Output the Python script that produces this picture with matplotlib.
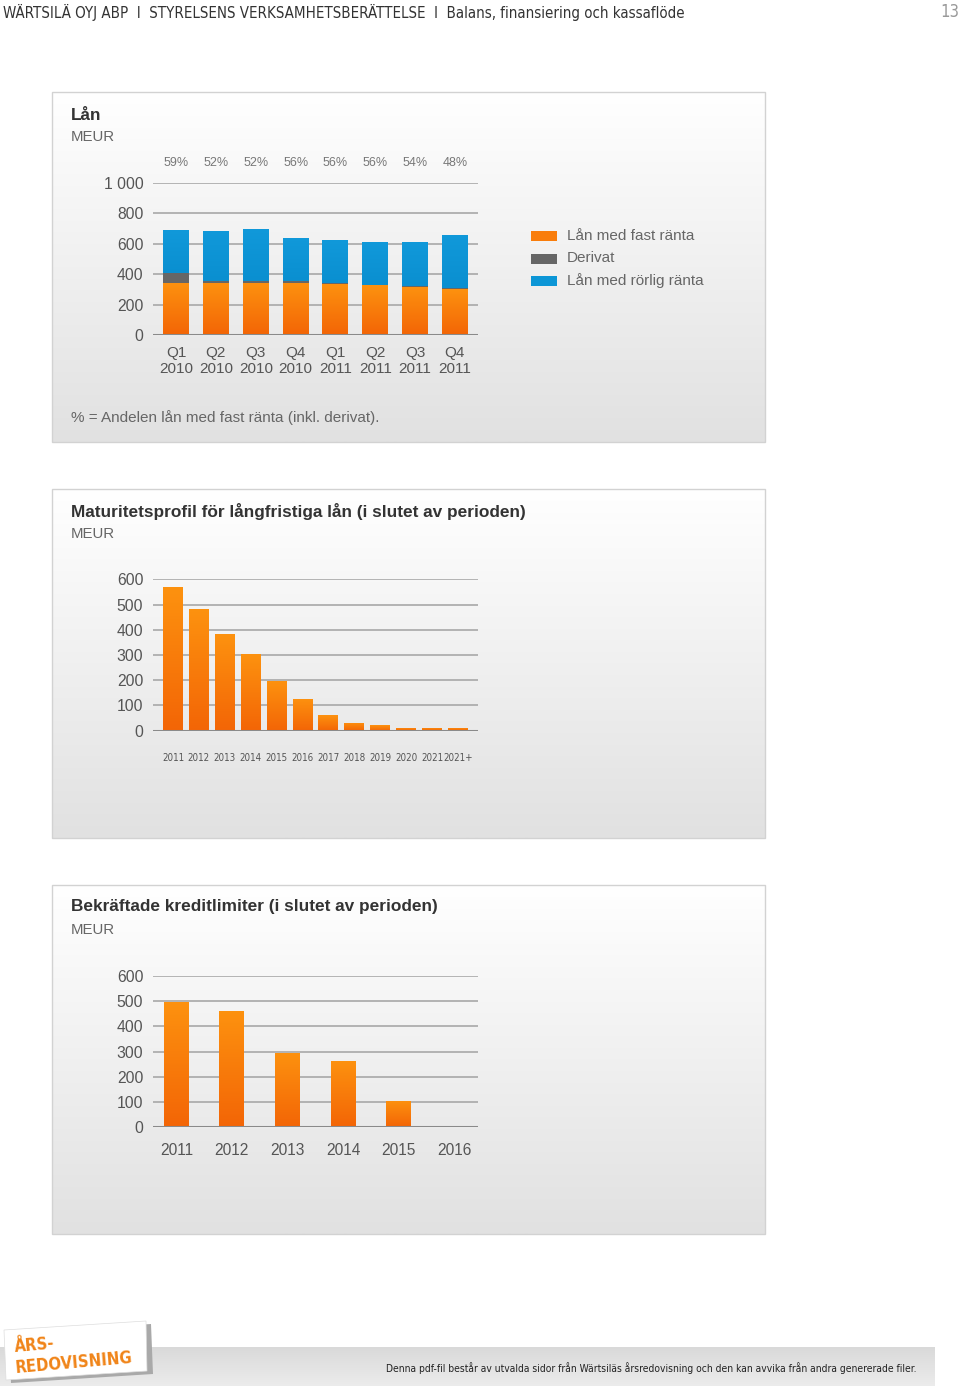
import numpy as np
import matplotlib
matplotlib.use('Agg')
from matplotlib import pyplot as plt
from matplotlib.colors import LinearSegmentedColormap
from matplotlib.patches import Rectangle, Polygon
import matplotlib.transforms as mtransforms

# data
quarters = ['Q1\n2010', 'Q2\n2010', 'Q3\n2010', 'Q4\n2010', 'Q1\n2011', 'Q2\n2011', 'Q3\n2011', 'Q4\n2011']
fast = [345, 345, 345, 345, 337, 327, 319, 301]
derivat = [66, 8, 8, 8, 5, 5, 5, 5]
rorlig = [281, 331, 344, 284, 282, 281, 287, 349]
andel = ['59%', '52%', '52%', '56%', '56%', '56%', '54%', '48%']

mat_years = ['2011', '2012', '2013', '2014', '2015', '2016', '2017', '2018', '2019', '2020', '2021', '2021+']
mat_values = [569, 481, 383, 305, 196, 127, 62, 32, 21, 12, 12, 12]

kred_years = ['2011', '2012', '2013', '2014', '2015', '2016']
kred_values = [497, 462, 293, 262, 103, 0]

W, H = 960, 1389
fig = plt.figure(figsize=(W / 100, H / 100), dpi=100)
fig.patch.set_facecolor('white')

SANS = ['Liberation Sans', 'DejaVu Sans']
NARROW = ['DejaVu Sans']
GRAY = '#666666'

page = fig.add_axes([0, 0, 1, 1], zorder=0)
page.set_xlim(0, W)
page.set_ylim(H, 0)
page.axis('off')


def cmap2(c1, c2):
    return LinearSegmentedColormap.from_list('g', [c1, c2])


grad = np.linspace(0, 1, 256).reshape(-1, 1)


def grad_box(x0, y0, x1, y1, ctop, cbot, border=None):
    page.imshow(grad, cmap=cmap2(ctop, cbot), extent=[x0, x1, y1, y0], aspect='auto', zorder=1)
    if border:
        page.add_patch(Rectangle((x0, y0), x1 - x0, y1 - y0, fill=False, ec=border, lw=1, zorder=2))


# panels
for (y0, y1) in [(92, 442), (489, 838), (885, 1234)]:
    grad_box(52, y0, 765, y1, '#ffffff', '#e1e1e1', border='#d2d2d2')

# footer band
grad_box(0, 1347, 935, 1386, '#d9d9d9', '#ececec')
page.set_xlim(0, W)
page.set_ylim(H, 0)

# logo card
shadow = Polygon([[9, 1333], [151, 1324], [153, 1374], [11, 1383]], closed=True, fc='#a9a9a9', ec='none', zorder=3)
card = Polygon([[4, 1330], [146, 1321], [147, 1371], [6, 1380]], closed=True, fc='white', ec='#dddddd', lw=0.5, zorder=4)
page.add_patch(shadow)
page.add_patch(card)
page.text(14, 1347, 'ÅRS-', color='#f08418', fontsize=12, fontweight='bold', family=NARROW, fontstretch='condensed',
          rotation=5, va='center', ha='left', zorder=5, rotation_mode='anchor')
page.text(15, 1368, 'REDOVISNING', color='#f08418', fontsize=12, fontweight='bold', family=NARROW, fontstretch='condensed',
          rotation=5, va='center', ha='left', zorder=5, rotation_mode='anchor')
page.text(917, 1368, 'Denna pdf-fil består av utvalda sidor från Wärtsiläs årsredovisning och den kan avvika från andra genererade filer.',
          fontsize=7.4, family=NARROW, fontstretch='condensed', color='#222222', ha='right', va='center', zorder=5)

# header
page.text(3, 12, 'WÄRTSILÄ OYJ ABP  I  STYRELSENS VERKSAMHETSBERÄTTELSE  I  Balans, finansiering och kassaflöde',
          fontsize=10.8, family=NARROW, fontstretch='condensed', color='#333333', ha='left', va='center', zorder=5)
page.text(959, 12, '13', fontsize=12, family=NARROW, fontstretch='condensed', color='#999999', ha='right', va='center', zorder=5)

# panel titles
TS = 12.4
page.text(71, 115, 'Lån', fontsize=TS, fontweight='bold', family=SANS, color='#333333', va='center', zorder=5)
page.text(71, 137, 'MEUR', fontsize=10.8, family=SANS, color=GRAY, va='center', zorder=5)
page.text(71, 511, 'Maturitetsprofil för långfristiga lån (i slutet av perioden)', fontsize=TS, fontweight='bold',
          family=SANS, color='#333333', va='center', zorder=5)
page.text(71, 534, 'MEUR', fontsize=10.8, family=SANS, color=GRAY, va='center', zorder=5)
page.text(71, 907, 'Bekräftade kreditlimiter (i slutet av perioden)', fontsize=TS, fontweight='bold',
          family=SANS, color='#333333', va='center', zorder=5)
page.text(71, 930, 'MEUR', fontsize=10.8, family=SANS, color=GRAY, va='center', zorder=5)
page.text(71, 418, '% = Andelen lån med fast ränta (inkl. derivat).', fontsize=11, family=SANS, color=GRAY,
          va='center', zorder=5)

# legend
leg = [('Lån med fast ränta', '#f97d0b'), ('Derivat', '#666666'), ('Lån med rörlig ränta', '#0c96d6')]
for i, (lab, c) in enumerate(leg):
    yy = 236 + i * 22.5
    page.add_patch(Rectangle((531, yy - 5), 26, 10, fc=c, ec='none', zorder=5))
    page.text(567, yy, lab, fontsize=11, family=SANS, color=GRAY, va='center', zorder=5)


def make_ax(top, bottom):
    ax = fig.add_axes([153 / W, 1 - bottom / H, 325 / W, (bottom - top) / H], zorder=2)
    ax.patch.set_alpha(0)
    for s in ax.spines.values():
        s.set_visible(False)
    ax.tick_params(length=0, colors='#555555')
    return ax


def grid(ax, ticks):
    for t in ticks:
        if t == 0:
            ax.axhline(t, color='#8a8a8a', lw=2.2, zorder=3)
        else:
            ax.axhline(t, color='#a8a8a8', lw=1.2, zorder=0)


def shade(ax, bars, ctop, cbot):
    for b in bars:
        if b.get_height() <= 0:
            continue
        x0, y0 = b.get_x(), b.get_y()
        w, h = b.get_width(), b.get_height()
        b.set_facecolor('none')
        im = ax.imshow(grad, cmap=cmap2(ctop, cbot), extent=[x0, x0 + w, y0, y0 + h],
                       aspect='auto', zorder=2)
        im.set_clip_path(b)


ORT, ORB = '#fd920f', '#f36506'
YS = 11.3

# chart 1
ax1 = make_ax(183, 335)
x = np.arange(len(quarters))
b1 = ax1.bar(x, fast, 0.65, color=ORT, zorder=2)
b2 = ax1.bar(x, derivat, 0.65, bottom=fast, color='#666666', zorder=2)
b3 = ax1.bar(x, rorlig, 0.65, bottom=np.array(fast) + np.array(derivat), color='#0c96d6', zorder=2)
shade(ax1, b1, ORT, ORB)
shade(ax1, b3, '#1199da', '#0a8fd0')
grid(ax1, range(0, 1001, 200))
ax1.set_xlim(-0.58, 7.58)
ax1.set_ylim(0, 1000)
ax1.set_yticks(range(0, 1001, 200))
ax1.set_yticklabels(['0', '200', '400', '600', '800', '1 000'], fontsize=YS, family=SANS)
ax1.set_xticks(x)
ax1.set_xticklabels(quarters, fontsize=11, family=SANS, linespacing=1.15)
ax1.tick_params(axis='y', pad=7)
ax1.tick_params(axis='x', pad=8)
tr = mtransforms.blended_transform_factory(ax1.transData, ax1.transAxes)
for i, s in enumerate(andel):
    ax1.text(i, 1.13, s, transform=tr, ha='center', va='center', fontsize=9, family=SANS, color='#777777')

# chart 2
ax2 = make_ax(579.3, 730.7)
x = np.arange(len(mat_years))
bm = ax2.bar(x, mat_values, 0.77, color=ORT, zorder=2)
shade(ax2, bm, ORT, ORB)
grid(ax2, range(0, 601, 100))
ax2.set_xlim(-0.77, 11.77)
ax2.set_ylim(0, 600)
ax2.set_yticks(range(0, 601, 100))
ax2.set_yticklabels([str(v) for v in range(0, 601, 100)], fontsize=YS, family=SANS)
ax2.set_xticks(x)
ax2.set_xticklabels(mat_years, fontsize=7, family=NARROW, fontstretch='condensed')
ax2.tick_params(axis='y', pad=7)
ax2.tick_params(axis='x', pad=16)

# chart 3
ax3 = make_ax(975.7, 1127.3)
x = np.arange(len(kred_years))
bk = ax3.bar(x, kred_values, 0.45, color=ORT, zorder=2)
shade(ax3, bk, ORT, ORB)
grid(ax3, range(0, 601, 100))
ax3.set_xlim(-0.42, 5.43)
ax3.set_ylim(0, 600)
ax3.set_yticks(range(0, 601, 100))
ax3.set_yticklabels([str(v) for v in range(0, 601, 100)], fontsize=YS, family=SANS)
ax3.set_xticks(x)
ax3.set_xticklabels(kred_years, fontsize=11.2, family=SANS)
ax3.tick_params(axis='y', pad=7)
ax3.tick_params(axis='x', pad=11)

fig.savefig('out.png', dpi=100)
